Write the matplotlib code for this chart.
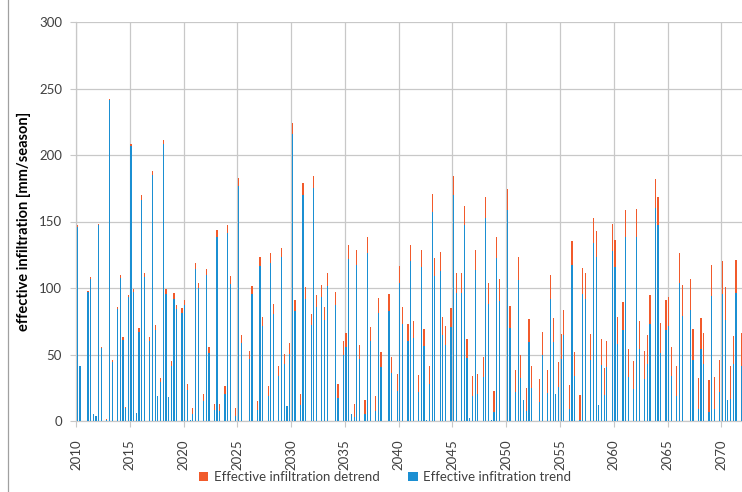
import matplotlib
matplotlib.use("Agg")
import matplotlib.pyplot as plt
from matplotlib.lines import Line2D
from matplotlib.patches import Patch

# ---- data (mm/season, 4 seasons per year, 2010-2071) ----
year_labels = ["2010", "2015", "2020", "2025", "2030", "2035", "2040",
               "2045", "2050", "2055", "2060", "2065", "2070"]
seasons_per_year = 4
n_years = 62

detrend = [
    147, 41.5, 0, 0, 97.5, 108, 5, 4, 148, 56, 0, 1.5, 242, 45.5, 0, 86, 110, 63, 10.5, 95,
    208.5, 99, 6, 70, 170, 111, 0, 63, 188, 72, 19, 32, 211, 99, 18, 45, 96, 87.5, 0, 85,
    91, 27.5, 0.5, 9.5, 119, 104, 0, 20, 114.5, 56, 0, 13, 143.5, 13, 0, 26, 147, 109, 0, 9.5,
    182.5, 65, 0, 0, 53, 101.5, 0, 15, 123.5, 78.5, 0, 26, 126, 88, 0, 41.5, 130, 50.5, 11, 58.5,
    224, 91, 0, 20.5, 179, 101, 0, 80.5, 184.5, 94.5, 0, 102, 85.5, 111, 0, 0, 97, 27.5, 0, 60,
    66, 132, 5, 12.5, 128.5, 57.5, 0, 16, 138, 71, 0, 18.5, 92.5, 52, 0, 0, 95.5, 48, 0, 35,
    116.5, 86, 0, 73, 132.5, 75, 0, 34.5, 128.5, 69.5, 1, 41.5, 170.5, 122.5, 0, 127, 78.5, 71.5, 0, 85,
    184.5, 111, 0, 111, 162, 61.5, 2.5, 33.5, 128.5, 35, 0, 48, 168.5, 103.5, 0.5, 22.5, 138, 106.5, 0, 0,
    174.5, 86.5, 0, 38.5, 123, 49.5, 15.8, 24.5, 76.5, 41.5, 0, 0, 31.5, 67, 0, 38.5, 109.5, 77.5, 20.5, 44.5,
    65.5, 83.5, 0, 27, 135.5, 52, 0, 19.5, 115, 111, 0, 65.5, 153, 143, 12, 61.5, 39.5, 60, 0, 148,
    136, 78, 0, 89.5, 159, 54, 0, 45, 159.5, 75.5, 0, 52.5, 64.5, 94.5, 0, 182, 168.5, 73.5, 0, 91,
    93.5, 56, 0, 41.5, 126, 102.5, 0, 0, 107, 69, 0, 32, 77.5, 66.5, 0, 30.5, 117.5, 33, 0, 46,
    120, 100.5, 15.8, 41, 64, 121, 0, 66.5,
]

trend = [
    146, 41, 0, 0, 97, 106.5, 5, 4, 147, 55, 0, 0.5, 241, 44, 0, 84, 107.5, 61, 10, 93,
    207, 97, 6, 67, 166.5, 108, 0, 60, 185, 68.5, 19, 29, 208, 95.5, 18, 41.5, 92, 84, 0, 81,
    87, 23, 0.5, 5, 114, 100, 0, 15, 109.5, 51.5, 0, 8, 138.5, 7.5, 0, 20, 141, 103, 0, 4,
    176.5, 58.5, 0, 0, 46.5, 95.5, 0, 8, 116.5, 71.5, 0, 19, 119, 80.5, 0, 34, 123, 43, 11, 50.5,
    215.5, 82.5, 0, 12, 170, 92, 0, 72, 175, 85.5, 0, 93, 76, 101.5, 0, 0, 87.5, 17.5, 0, 49.5,
    55.5, 122, 5, 3, 117.5, 46.5, 0, 5, 126.5, 60, 0, 7.5, 81, 40.5, 0, 0, 83, 36, 0, 22.5,
    104, 73, 0, 60.5, 120, 62.5, 0, 21.5, 116, 56.5, 1, 28, 157, 109, 0, 113, 64.5, 57.5, 0, 70.5,
    170, 96.5, 0, 96.5, 147.5, 47.5, 2.5, 19, 113.5, 20.5, 0, 33, 153, 88, 0.5, 7, 122.5, 90.5, 0, 0,
    158.5, 70, 0, 21.5, 106, 32.5, 15.8, 7.5, 59.5, 24.5, 0, 0, 14.5, 49.5, 0, 21, 91.5, 59.5, 20.5, 25.5,
    46.5, 65, 0, 9, 117, 33.5, 0, 0.5, 95.5, 91.5, 0, 46, 133.5, 123.5, 12, 42, 19.5, 40.5, 0, 128,
    115.5, 58, 0, 68.5, 138.5, 33, 0, 24, 138.5, 54, 0, 31.5, 43, 73, 0, 160, 147, 51.5, 0, 68.5,
    71.5, 33.5, 0, 19, 103.5, 79, 0, 0, 83.5, 46, 0, 9, 54, 43, 0, 7, 94, 9, 0, 22,
    95.5, 76, 15.8, 16.3, 43, 96, 0, 41.5,
]

# ---- styling ----
red = "#F15A2B"
blue = "#1B8FD2"
grid_c = "#C8C8C8"
text_c = "#404040"
font = ["Lato", "DejaVu Sans"]
plt.rcParams["font.family"] = font

W, H = 742, 492
fig = plt.figure(figsize=(W / 100, H / 100), dpi=100)
left_px, right_px, top_px, bot_px = 76, 742.8, 22, 421
ax = fig.add_axes([left_px / W, 1 - bot_px / H,
                   (right_px - left_px) / W, (bot_px - top_px) / H])

n = len(detrend)
xpos = [i + 0.45 for i in range(n)]
ax.bar(xpos, detrend, width=0.45, color=red, linewidth=0, zorder=2,
       antialiased=False)
ax.bar(xpos, trend, width=0.45, color=blue, linewidth=0, zorder=3,
       antialiased=False)

ax.set_xlim(0, n_years * seasons_per_year)
ax.set_ylim(0, 300)
ax.set_yticks(range(0, 301, 50))
ax.set_xticks([k * 5 * seasons_per_year for k in range(len(year_labels))])
ax.set_xticklabels(year_labels, rotation=90)
ax.tick_params(axis="both", colors=text_c, labelsize=9.5, length=4, color=grid_c)
ax.tick_params(axis="y", pad=6)
ax.tick_params(axis="x", pad=9)
ax.grid(True, color=grid_c, linewidth=0.9, zorder=0)
ax.set_axisbelow(True)
for s in ["top", "right"]:
    ax.spines[s].set_visible(False)
for s in ["left", "bottom"]:
    ax.spines[s].set_color(grid_c)
    ax.spines[s].set_linewidth(0.9)

ax.set_ylabel("effective infiltration [mm/season]", fontsize=10.5,
              fontweight="bold", color="#000000")
ax.yaxis.set_label_coords(-(76 - 31) / (right_px - left_px), 0.5)

# left frame line of the chart area
fig.add_artist(Line2D([8 / W, 8 / W], [0, 1], transform=fig.transFigure,
                      color="#A0A0A0", linewidth=0.9))

handles = [Patch(facecolor=red, edgecolor="none", label="Effective infiltration detrend"),
           Patch(facecolor=blue, edgecolor="none", label="Effective infitration trend")]
fig.legend(handles=handles, loc="center", bbox_to_anchor=(385 / W, 1 - 477 / H),
           ncol=2, frameon=False, fontsize=9.5, handlelength=0.7, handleheight=0.7,
           handletextpad=0.4, columnspacing=2.2, labelcolor=text_c)

fig.savefig("out.png", dpi=100)
